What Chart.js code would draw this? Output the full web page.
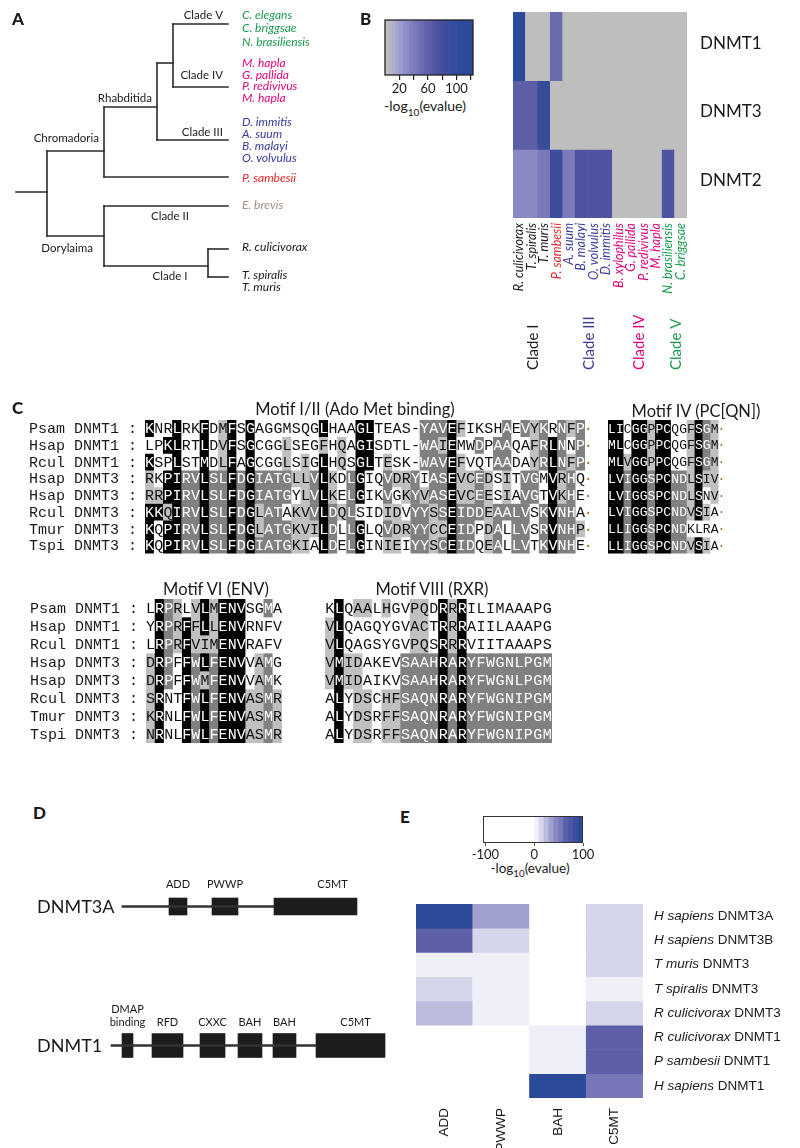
<!DOCTYPE html>
<html>
<head>
<meta charset="utf-8">
<script src="https://cdn.jsdelivr.net/npm/chart.js@4.4.1/dist/chart.umd.min.js"></script>
<style>
  html, body { margin: 0; padding: 0; background: #fff; }
  body { position: relative; width: 800px; height: 1148px; overflow: hidden; }
  canvas { position: absolute; }
  .txt { position: absolute; white-space: nowrap; line-height: 1; color: #1a1a1a; font-family: Lato, 'Noto Sans', sans-serif; }
  .txt sub { font-size: 0.72em; vertical-align: -0.45em; line-height: 0; }
</style>
</head>
<body>
<canvas id="tree" style="left:0;top:0" width="330" height="300"></canvas>
<canvas id="barB" style="left:370px;top:10px" width="120" height="85"></canvas>
<canvas id="heatB" style="left:500px;top:0" width="300" height="380"></canvas>
<canvas id="alnA" style="left:0;top:410px" width="600" height="150"></canvas>
<canvas id="alnB" style="left:600px;top:410px" width="200" height="150"></canvas>
<canvas id="alnC" style="left:0;top:590px" width="300" height="160"></canvas>
<canvas id="alnD" style="left:300px;top:590px" width="300" height="160"></canvas>
<canvas id="domains" style="left:0;top:837px" width="400" height="278"></canvas>
<canvas id="barE" style="left:470px;top:805px" width="130" height="55"></canvas>
<canvas id="heatE" style="left:400px;top:895px" width="400" height="253"></canvas>
<script>
// ---- A: arbre (profondeur et rang de chaque noeud) ----
const treeNodeNames = ['root', 'Chromadoria', 'Rhabditida', 'IV+V', 'Clade V', 'Clade IV', 'Clade III',
  'P. sambesii', 'Dorylaima', 'Clade II', 'Clade I', 'R. culicivorax', 'T. spiralis'];
const treeParents = [null, 'root', 'Chromadoria', 'Rhabditida', 'IV+V', 'IV+V', 'Rhabditida',
  'Chromadoria', 'root', 'Dorylaima', 'Dorylaima', 'Clade I', 'Clade I'];
const treeDepth = [47, 104, 157, 173, 228, 228, 228, 228, 104, 228, 208, 228, 228];
const treeRowY = [192, 151, 107, 63, 24, 87, 140, 177, 236, 206, 266, 249, 277];
const treeStemStart = 16;
const leafSpecies = {
  'Clade V': ['C. elegans', 'C. briggsae', 'N. brasiliensis'],
  'Clade IV': ['M. hapla', 'G. pallida', 'P. redivivus', 'M. hapla'],
  'Clade III': ['D. immitis', 'A. suum', 'B. malayi', 'O. volvulus'],
  'P. sambesii': ['P. sambesii'],
  'Clade II': ['E. brevis'],
  'R. culicivorax': ['R. culicivorax'],
  'T. spiralis': ['T. spiralis', 'T. muris']
};

// ---- B: heatmap DNMT par espece ----
const bSpecies = ['R. culicivorax', 'T. spiralis', 'T. muris', 'P. sambesii', 'A. suum', 'B. malayi',
  'O. volvulus', 'D. immitis', 'B. xylophilus', 'G. pallida', 'P. redivivus', 'M. hapla',
  'N. brasiliensis', 'C. briggsae'];
const bGroup = ['I', 'I', 'I', 'Psam', 'III', 'III', 'III', 'III', 'IV', 'IV', 'IV', 'IV', 'V', 'V'];
const bRows = ['DNMT1', 'DNMT3', 'DNMT2'];
const dnmt1Score = [110, 0, 0, 52, 0, 0, 0, 0, 0, 0, 0, 0, 0, 0];
const dnmt3Score = [62, 62, 93, 0, 0, 0, 0, 0, 0, 0, 0, 0, 0, 0];
const dnmt2Score = [32, 32, 42, 85, 42, 72, 72, 70, 0, 0, 0, 0, 72, 0];
const bTicks = [20, 40, 60, 80, 100, 120];
const bTickLabels = [20, 60, 100];

// ---- C: alignements ----
const alnNames = ['Psam DNMT1', 'Hsap DNMT1', 'Rcul DNMT1', 'Hsap DNMT3', 'Hsap DNMT3', 'Rcul DNMT3', 'Tmur DNMT3', 'Tspi DNMT3'];
const motif1 = [
  'KNRLRKFDMFSGAGGMSQGLHAAGLTEAS-YAVEFIKSHAEVYKRNFP',
  'LPKLRTLDVFSGCGGLSEGFHQAGISDTL-WAIEMWDPAAQAFRLNNP',
  'KSPLSTMDLFAGCGGLSIGLHQSGLTESK-WAVEFVQTAADAYRLNFP',
  'RKPIRVLSLFDGIATGLLVLKDLGIQVDRYIASEVCEDSITVGMVRHQ',
  'RRPIRVLSLFDGIATGYLVLKELGIKVGKYVASEVCEESIAVGTVKHE',
  'KKQIRVLSLFDGLATAKVVLDQLSIDIDVYYSSEIDDEAALVSKVNHA',
  'KQPIRVLSLFDGLATGKVILDLLGLQVDRYYCCEIDPDALLVSRVNHP',
  'KQPIRVLSLFDGIATGKIALDELGINIEIYYSCEIDQEALLVTKVNHE'
];
// K = noir, D = gris fonce, L = gris clair, . = blanc
const motif1Shade = [
  'K..K..K.' + 'LK.K....' + '...K...K' + 'K.....DD' + 'DKL....D' + '.DLD.DLD',
  '..KK..K.' + 'LK.K...L' + '...L.L.K' + 'K.....DD' + 'LK..D.DD' + '..LDKD.D',
  'K..K..K.' + 'LK.K...L' + '.L.K.L.K' + 'K.L...DD' + 'DKL...DD' + '..LDKDLD',
  'L.KKDDKD' + 'DKDKDDDD' + 'LLDKL.DK' + '..DLLD.D' + 'DKLLDL.L' + '.DD.KLD.',
  'LLKKDDKD' + 'DKDKDDDD' + '.LDKL.DK' + '..D.LDLD' + 'DKLLDL.L' + '.DD.KLD.',
  'KKLKDDKD' + 'DKDKLDD.' + 'LLDKDLD.' + '..LL.DDL' + 'DKDDDLDD' + 'DD.DKDD.',
  'K.KKDDKD' + 'DKDKLDDD' + 'LLLKD.DK' + '..DLLDDL' + 'LKDD.LD.' + 'DD.DKDDL',
  'K.KKDDKD' + 'DKDKDDDD' + 'LL.KD.DK' + '..LL.DDL' + 'DKDD.LD.' + 'DD.DKDD.'
];
const motif4 = [
  'LICGGPPCQGFSGM', 'MLCGGPPCQGFSGM', 'MLVGGPPCQGFSGM', 'LVIGGSPCNDLSIV',
  'LVIGGSPCNDLSNV', 'LVIGGSPCNDVSIA', 'LLIGGSPCNDKLRA', 'LLIGGSPCNDVSIA'
];
const motif4Shade = [
  'KK.KKLKK..LKDL', 'KK.KKLKK..LKDL', 'KKLKKLKK..LKDL', 'KKDKKDKKDDLKLL',
  'KKDKKDKKDDLK.L', 'KKDKKDKKDDLKL.', 'KKDKKDKKDD....', 'KKDKKDKKDDLKL.'
];
const motif6 = [
  'LRPRLVLMENVSGMA', 'YRPRFFLLENVRNFV', 'LRPRFVIMENVRAFV', 'DRPFFWLFENVVAMG',
  'DRPFFWMFENVVAMK', 'SRNTFWLFENVASMR', 'KRNLFWLFENVASMR', 'NRNLFWLFENVASMR'
];
const motif6Shade = [
  '.KDL.LKLKKK..D.', '.KDLKLKLKKK....', '.KDLKLLLKKK....', 'LKD.KDKDKKK.LD.',
  'LKD.KDLDKKK.LD.', 'LK..KDKDKKKLLDL', 'LK..KDKDKKKLLDL', 'LK..KDKDKKKLLDL'
];
const motif8 = [
  'KLQAALHGVPQDRRRILIMAAAPG', 'VLQAGQYGVACTRRRAIILAAAPG', 'VLQAGSYGVPQSRRRVIITAAAPS',
  'VMIDAKEVSAAHRARYFWGNLPGM', 'VMIDAIKVSAAHRARYFWGNLPGM', 'ALYDSCHFSAQNRARYFWGNIPGM',
  'ALYDSRFFSAQNRARYFWGNIPGM', 'ALYDSRFFSAQNRARYFWGNIPGM'
];
const motif8Shade = [
  '.K.LL.L..LL.KLK.........', 'LK.......LL.KLK.........', 'LK.......LL.KLK.........',
  'LKLL....DDDDKDKDDDDDDDDD', 'LKLL....DDDDKDKDDDDDDDDD', '.K.LL.LLDDDDKDKDDDDDDDDD',
  '.K.LL.LLDDDDKDKDDDDDDDDD', '.K.LL.LLDDDDKDKDDDDDDDDD'
];

// ---- D: domaines ----
const dProteins = ['DNMT3A', 'DNMT1'];
const dnmt3aSpan = [122, 274];
const dnmt1Span = [111, 316];
const dnmt3aDomains = ['ADD', 'PWWP', 'C5MT'];
const dnmt3aStart = [169, 212, 274];
const dnmt3aEnd = [187, 238, 357];
const dnmt1Domains = ['DMAP\nbinding', 'RFD', 'CXXC', 'BAH', 'BAH', 'C5MT'];
const dnmt1Start = [122, 152, 200, 238, 273, 316];
const dnmt1End = [133, 183, 225, 262, 296, 385];

// ---- E: heatmap domaines ----
const eDomains = ['ADD', 'PWWP', 'BAH', 'C5MT'];
const eSpecies = ['H sapiens', 'H sapiens', 'T muris', 'T spiralis', 'R culicivorax', 'R culicivorax', 'P sambesii', 'H sapiens'];
const eProteins = ['DNMT3A', 'DNMT3B', 'DNMT3', 'DNMT3', 'DNMT3', 'DNMT1', 'DNMT1', 'DNMT1'];
const eADD = [95, 65, 5, 15, 25, null, null, null];
const ePWWP = [35, 15, 5, 5, 5, null, null, null];
const eBAH = [null, null, null, null, null, 5, 5, 95];
const eC5MT = [15, 15, 15, 5, 15, 65, 65, 55];
const eTicks = [-100, 0, 100];

// ---- styles ----
Chart.defaults.font.family = 'Lato';
Chart.defaults.animation = false;
Chart.defaults.responsive = false;
Chart.defaults.events = [];
Chart.defaults.plugins.legend.display = false;
Chart.defaults.plugins.tooltip.enabled = false;

const INK = '#1a1a1a';
const groupColor = { I: INK, Psam: '#e8242b', III: '#3b3a98', IV: '#e4007c', V: '#1a9b4b' };
const leafColor = { 'Clade V': '#1a9b4b', 'Clade IV': '#e4007c', 'Clade III': '#3b3a98', 'P. sambesii': '#e8242b', 'Clade II': '#a48f80' };
const treeLabelLayout = {
  'Chromadoria': { dx: -5, dy: -13, align: 'right' },
  'Rhabditida': { dx: -5, dy: -9, align: 'right' },
  'Clade V': { dx: -5, dy: -9, align: 'right' },
  'Clade IV': { dx: -5, dy: -12, align: 'right' },
  'Clade III': { dx: -5, dy: -8, align: 'right' },
  'Dorylaima': { dx: -11, dy: 12, align: 'right' },
  'Clade II': { dx: -58, dy: 10, align: 'center' },
  'Clade I': { dx: -38, dy: 10, align: 'center' }
};
const leafTextLayout = {
  'Clade V': [-9, 13.5], 'Clade IV': [-24, 11.7], 'Clade III': [-18, 12],
  'P. sambesii': [1, 0], 'Clade II': [-1, 0], 'R. culicivorax': [-2, 0], 'T. spiralis': [-2, 12.5]
};
// palette du -log10(evalue), par pas de 5 (B) et de 10 (E)
const bPalette = ['#bebebe', '#b6b6c6', '#adadcc', '#a3a3cf', '#9a9acc', '#9191c8', '#8989c3', '#8181be',
  '#7a7aba', '#7272b5', '#6a6ab0', '#6363ac', '#5c5fa8', '#5559a4', '#4e54a1', '#47519f', '#414f9d',
  '#3c4d9c', '#374c9b', '#334b9b', '#2f4b9a', '#2c4a9a', '#2b4a9a', '#2a4a9a', '#2a4a9a'];
const ePalette = ['#efeff8', '#d6d6eb', '#bbbbdd', '#a0a0cf', '#8888c3', '#7777b9', '#5d60a9', '#4c56a2', '#3c4e9d', '#2b4a9a'];
const shadeFill = { K: '#000000', D: '#808080', L: '#c0c0c0', '.': '#ffffff' };
const shadeInk = { K: '#ffffff', D: '#ffffff', L: '#111111', '.': '#111111' };

const bColor = v => bPalette[Math.min(bPalette.length - 1, Math.floor(v / 5))];
const eColor = v => (v === null || v < 0) ? '#ffffff' : ePalette[Math.min(ePalette.length - 1, Math.floor(v / 10))];

function placeText(html, x, cy, o = {}) {
  const d = document.createElement('div');
  d.className = 'txt';
  d.innerHTML = html;
  const size = o.size || 14;
  d.style.fontSize = size + 'px';
  d.style.left = x + 'px';
  d.style.top = (cy - 0.53 * size) + 'px';
  if (o.weight) d.style.fontWeight = o.weight;
  if (o.family) d.style.fontFamily = o.family;
  if (o.align === 'center') d.style.transform = 'translateX(-50%)';
  if (o.align === 'right') d.style.transform = 'translateX(-100%)';
  document.body.appendChild(d);
}

// ---------- A : arbre ----------
const treeSegments = [];
treeNodeNames.forEach((name, i) => {
  const p = treeParents[i];
  const px = p === null ? treeStemStart : treeDepth[treeNodeNames.indexOf(p)];
  treeSegments.push([{ x: px, y: treeRowY[i] }, { x: treeDepth[i], y: treeRowY[i] }]);
  const kids = treeParents.map((q, j) => q === name ? treeRowY[j] : null).filter(v => v !== null);
  if (kids.length) {
    treeSegments.push([{ x: treeDepth[i], y: Math.min(...kids) }, { x: treeDepth[i], y: Math.max(...kids) }]);
  }
});

new Chart(document.getElementById('tree'), {
  type: 'scatter',
  data: {
    datasets: treeSegments.map(seg => ({
      data: seg, showLine: true, borderColor: '#2b2b2b', borderWidth: 1.6,
      pointRadius: 0, borderCapStyle: 'square'
    }))
  },
  options: {
    layout: { padding: 0 },
    scales: {
      x: { type: 'linear', min: 0, max: 330, display: false },
      y: { type: 'linear', min: 0, max: 300, reverse: true, display: false }
    }
  },
  plugins: [{
    id: 'treeLabels',
    afterDraw(chart) {
      const { ctx, scales: { x, y } } = chart;
      ctx.save();
      ctx.textBaseline = 'middle';
      treeNodeNames.forEach((name, i) => {
        const lay = treeLabelLayout[name];
        const nx = x.getPixelForValue(treeDepth[i]);
        const ny = y.getPixelForValue(treeRowY[i]);
        if (lay) {
          ctx.font = '11.5px Lato';
          ctx.fillStyle = INK;
          ctx.textAlign = lay.align;
          ctx.fillText(name, nx + lay.dx, ny + lay.dy);
        }
        const sp = leafSpecies[name];
        if (sp) {
          const [start, step] = leafTextLayout[name];
          ctx.font = 'italic 12px Lato';
          ctx.fillStyle = leafColor[name] || INK;
          ctx.textAlign = 'left';
          sp.forEach((s, k) => ctx.fillText(s, nx + 14, ny + start + k * step));
        }
      });
      ctx.restore();
    }
  }]
});

// ---------- B : echelle de couleur ----------
new Chart(document.getElementById('barB'), {
  type: 'bar',
  data: {
    labels: ['scale'],
    datasets: [{
      data: bPalette.map((c, i) => ({ x: [i * 5, i * 5 + 5], y: 'scale' })),
      backgroundColor: bPalette,
      borderWidth: 0, grouped: false, barPercentage: 1, categoryPercentage: 1
    }]
  },
  options: {
    indexAxis: 'y',
    layout: { padding: { left: 15, right: 17, top: 10, bottom: 0 } },
    scales: {
      x: {
        type: 'linear', min: 0, max: 123,
        afterBuildTicks: s => { s.ticks = bTicks.map(v => ({ value: v })); },
        afterFit: s => { s.height = 20; },
        ticks: {
          padding: 1, color: INK, font: { size: 13 }, autoSkip: false, minRotation: 0, maxRotation: 0,
          callback: v => bTickLabels.includes(v) ? v : ''
        },
        grid: { drawOnChartArea: false, drawTicks: true, tickLength: 5, color: '#222', lineWidth: 1.2 },
        border: { display: false }
      },
      y: { display: false }
    }
  },
  plugins: [{
    id: 'frame',
    afterDatasetsDraw(chart) {
      const { ctx, chartArea: a } = chart;
      ctx.save();
      ctx.strokeStyle = '#222';
      ctx.lineWidth = 1.3;
      ctx.strokeRect(a.left, a.top, a.width, a.height);
      ctx.restore();
    }
  }]
});

// ---------- B : heatmap ----------
const bScores = [dnmt1Score, dnmt3Score, dnmt2Score];
new Chart(document.getElementById('heatB'), {
  type: 'bar',
  data: {
    labels: bSpecies,
    datasets: bRows.map((row, r) => ({
      label: row,
      data: bSpecies.map(() => 1),
      backgroundColor: bScores[r].map(bColor),
      borderWidth: 0, barPercentage: 1, categoryPercentage: 1
    }))
  },
  options: {
    layout: { padding: { left: 13, right: 113, top: 12, bottom: 0 } },
    scales: {
      x: {
        stacked: true,
        grid: { display: false, drawTicks: false },
        border: { display: false },
        afterFit: s => { s.height = 162; },
        ticks: {
          autoSkip: false, minRotation: 90, maxRotation: 90, padding: 5,
          font: { size: 12.5, style: 'italic' },
          color: c => groupColor[bGroup[c.index]]
        }
      },
      y: { stacked: true, reverse: true, min: 0, max: bRows.length, display: false }
    }
  },
  plugins: [{
    id: 'heatLabels',
    afterDraw(chart) {
      const { ctx, chartArea: a, scales: { x, y } } = chart;
      ctx.save();
      ctx.textBaseline = 'middle';
      ctx.font = '17px Lato';
      ctx.fillStyle = INK;
      ctx.textAlign = 'left';
      bRows.forEach((row, r) => ctx.fillText(row, a.right + 13, y.getPixelForValue(r + 0.5) - 3));
      // noms de clades, verticaux
      const groups = ['I', 'III', 'IV', 'V'];
      ctx.font = '15px Lato';
      groups.forEach(g => {
        const idx = bGroup.map((q, i) => q === g ? i : -1).filter(i => i >= 0);
        const cx = (x.getPixelForValue(idx[0]) + x.getPixelForValue(idx[idx.length - 1])) / 2;
        ctx.save();
        ctx.translate(cx + 2, 370);
        ctx.rotate(-Math.PI / 2);
        ctx.fillStyle = groupColor[g];
        ctx.fillText('Clade ' + g, 0, 0);
        ctx.restore();
      });
      ctx.restore();
    }
  }]
});

// ---------- C : alignements ----------
function drawAlignment(id, seqs, shades, o) {
  const n = seqs[0].length;
  const columns = Array.from({ length: n }, (_, i) => i + 1);
  new Chart(document.getElementById(id), {
    type: 'bar',
    data: {
      labels: columns,
      datasets: seqs.map((s, r) => ({
        label: alnNames[r],
        data: columns.map(() => 1),
        backgroundColor: [...shades[r]].map(c => shadeFill[c]),
        borderWidth: 0, barPercentage: 1, categoryPercentage: 1
      }))
    },
    options: {
      layout: { padding: o.pad },
      scales: {
        x: { stacked: true, display: false },
        y: { stacked: true, reverse: true, min: 0, max: seqs.length, display: false }
      }
    },
    plugins: [{
      id: 'residues',
      afterDatasetsDraw(chart) {
        const { ctx, scales: { x, y } } = chart;
        const cw = x.width / n;
        ctx.save();
        ctx.font = o.size + 'px "Liberation Mono", "Courier New", monospace';
        ctx.textBaseline = 'middle';
        seqs.forEach((s, r) => {
          const yy = y.getPixelForValue(r + 0.5) + 1;
          ctx.textAlign = 'center';
          [...s].forEach((ch, i) => {
            ctx.fillStyle = shadeInk[shades[r][i]];
            ctx.fillText(ch, x.getPixelForValue(i), yy);
          });
          if (o.dot) {
            ctx.fillStyle = '#b5651d';
            ctx.fillText('\u00b7', x.getPixelForValue(n - 1) + cw * 0.85, yy);
          }
          if (o.names) {
            ctx.fillStyle = INK;
            ctx.textAlign = 'right';
            ctx.fillText(alnNames[r] + ' :', x.left - 8, yy);
          }
        });
        ctx.restore();
      }
    }]
  });
}
drawAlignment('alnA', motif1, motif1Shade, { size: 15, names: true, dot: true, pad: { left: 145, right: 15, top: 10, bottom: 6.4 } });
drawAlignment('alnB', motif4, motif4Shade, { size: 13, dot: true, pad: { left: 8, right: 81.4, top: 10, bottom: 6.4 } });
drawAlignment('alnC', motif6, motif6Shade, { size: 15, names: true, pad: { left: 146, right: 18, top: 9, bottom: 7 } });
drawAlignment('alnD', motif8, motif8Shade, { size: 15, pad: { left: 25, right: 48, top: 9, bottom: 7 } });

// ---------- D : domaines ----------
new Chart(document.getElementById('domains'), {
  type: 'bar',
  data: {
    labels: dProteins,
    datasets: [
      {
        data: [{ x: dnmt3aSpan, y: 'DNMT3A' }, { x: dnmt1Span, y: 'DNMT1' }],
        backgroundColor: '#333', barThickness: 2
      },
      {
        label: 'DNMT3A',
        data: dnmt3aDomains.map((d, i) => ({ x: [dnmt3aStart[i], dnmt3aEnd[i]], y: 'DNMT3A' })),
        backgroundColor: '#1c1c1c', barThickness: 17
      },
      {
        label: 'DNMT1',
        data: dnmt1Domains.map((d, i) => ({ x: [dnmt1Start[i], dnmt1End[i]], y: 'DNMT1' })),
        backgroundColor: '#1c1c1c', barThickness: 24
      }
    ]
  },
  options: {
    indexAxis: 'y',
    layout: { padding: 0 },
    datasets: { bar: { grouped: false, borderWidth: 0 } },
    scales: {
      x: { type: 'linear', min: 0, max: 400, display: false },
      y: { display: false }
    }
  },
  plugins: [{
    id: 'domainLabels',
    afterDraw(chart) {
      const { ctx, scales: { x, y } } = chart;
      ctx.save();
      ctx.textBaseline = 'middle';
      ctx.fillStyle = INK;
      ctx.font = '18px Lato';
      ctx.textAlign = 'left';
      dProteins.forEach(p => ctx.fillText(p, x.getPixelForValue(37), y.getPixelForValue(dProteins.indexOf(p)) + 1));
      ctx.font = '11px Lato';
      ctx.textAlign = 'center';
      const shift = { DNMT3A: { C5MT: 17 }, DNMT1: { C5MT: 5 } };
      const sets = [
        ['DNMT3A', dnmt3aDomains, dnmt3aStart, dnmt3aEnd, 17, 13.5],
        ['DNMT1', dnmt1Domains, dnmt1Start, dnmt1End, 24, 11.5]
      ];
      sets.forEach(([p, names, st, en, h, gap]) => {
        const top = y.getPixelForValue(dProteins.indexOf(p)) - h / 2;
        names.forEach((nm, i) => {
          const cx = x.getPixelForValue((st[i] + en[i]) / 2) + ((shift[p] || {})[nm] || 0);
          const lines = nm.split('\n');
          lines.forEach((ln, k) => ctx.fillText(ln, cx, top - gap - (lines.length - 1 - k) * 13));
        });
      });
      ctx.restore();
    }
  }]
});

// ---------- E : echelle de couleur ----------
new Chart(document.getElementById('barE'), {
  type: 'bar',
  data: {
    labels: ['scale'],
    datasets: [{
      data: [{ x: [-105, 0], y: 'scale' }].concat(ePalette.map((c, i) => ({ x: [i * 10, i * 10 + 10], y: 'scale' }))),
      backgroundColor: ['#ffffff'].concat(ePalette),
      borderWidth: 0, grouped: false, barPercentage: 1, categoryPercentage: 1
    }]
  },
  options: {
    indexAxis: 'y',
    layout: { padding: { left: 13, right: 17, top: 11, bottom: 0 } },
    scales: {
      x: {
        type: 'linear', min: -105, max: 100,
        afterBuildTicks: s => { s.ticks = eTicks.map(v => ({ value: v })); },
        afterFit: s => { s.height = 17; },
        ticks: { padding: 1, color: INK, font: { size: 13 }, autoSkip: false, minRotation: 0, maxRotation: 0 },
        grid: { drawOnChartArea: false, drawTicks: true, tickLength: 3, color: '#555', lineWidth: 1 },
        border: { display: false }
      },
      y: { display: false }
    }
  },
  plugins: [{
    id: 'frame',
    afterDatasetsDraw(chart) {
      const { ctx, chartArea: a } = chart;
      ctx.save();
      ctx.strokeStyle = '#333';
      ctx.lineWidth = 1;
      ctx.strokeRect(a.left + 0.5, a.top + 0.5, a.width - 1, a.height - 1);
      ctx.restore();
    }
  }]
});

// ---------- E : heatmap ----------
const eColumns = [eADD, ePWWP, eBAH, eC5MT];
new Chart(document.getElementById('heatE'), {
  type: 'bar',
  data: {
    labels: eDomains,
    datasets: eSpecies.map((sp, r) => ({
      label: sp + ' ' + eProteins[r],
      data: eDomains.map(() => 1),
      backgroundColor: eColumns.map(col => eColor(col[r])),
      borderWidth: 0, barPercentage: 1, categoryPercentage: 1
    }))
  },
  options: {
    layout: { padding: { left: 16, right: 157, top: 9, bottom: 0 } },
    scales: {
      x: {
        stacked: true,
        grid: { display: false, drawTicks: false },
        border: { display: false },
        afterFit: s => { s.height = 50; },
        ticks: {
          autoSkip: false, minRotation: 90, maxRotation: 90, padding: 10, color: INK,
          font: { family: '"Liberation Sans", Arial, sans-serif', size: 13.5 }
        }
      },
      y: { stacked: true, reverse: true, min: 0, max: eSpecies.length, display: false }
    }
  },
  plugins: [{
    id: 'rowLabels',
    afterDraw(chart) {
      const { ctx, chartArea: a, scales: { y } } = chart;
      ctx.save();
      ctx.textBaseline = 'middle';
      ctx.textAlign = 'left';
      ctx.fillStyle = INK;
      eSpecies.forEach((sp, r) => {
        const yy = y.getPixelForValue(r + 0.5);
        ctx.font = 'italic 13.5px "Liberation Sans", Arial, sans-serif';
        ctx.fillText(sp, a.right + 11, yy);
        const w = ctx.measureText(sp + ' ').width;
        ctx.font = '13.5px "Liberation Sans", Arial, sans-serif';
        ctx.fillText(eProteins[r], a.right + 11 + w, yy);
      });
      ctx.restore();
    }
  }]
});

// ---------- textes ----------
placeText('A', 12, 19, { size: 17, weight: 900 });
placeText('B', 360, 19, { size: 17, weight: 900 });
placeText('C', 12, 408, { size: 17, weight: 900 });
placeText('D', 33, 813, { size: 17, weight: 900 });
placeText('E', 400, 817, { size: 17, weight: 900 });
placeText('-log<sub>10</sub>(evalue)', 384, 106, { size: 14 });
placeText('-log<sub>10</sub>(evalue)', 530, 869, { size: 13.5, align: 'center' });
placeText('Motif I/II (Ado Met binding)', 355, 410, { size: 16.5, align: 'center' });
placeText('Motif IV (PC[QN])', 696, 412, { size: 16.5, align: 'center' });
placeText('Motif VI (ENV)', 216, 590, { size: 16.5, align: 'center' });
placeText('Motif VIII (RXR)', 432, 590, { size: 16.5, align: 'center' });
</script>
</body>
</html>
